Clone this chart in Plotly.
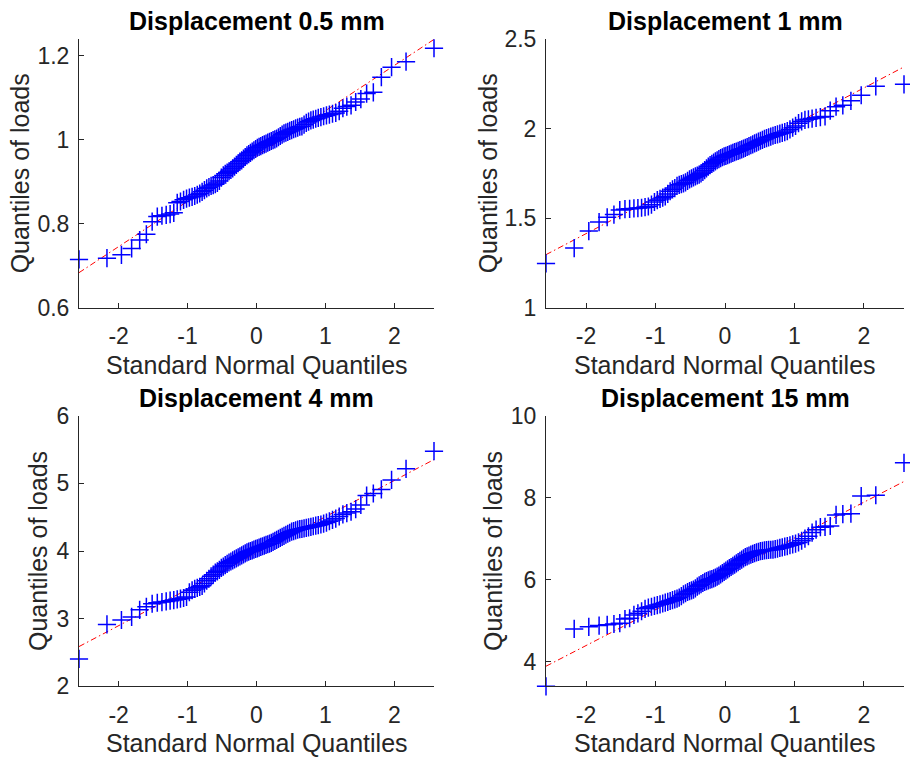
import plotly.graph_objects as go
from statistics import NormalDist

# ---------------- data (sorted sample quantiles) ----------------
titles = ["Displacement 0.5 mm", "Displacement 1 mm", "Displacement 4 mm", "Displacement 15 mm"]

loads_05mm = [
    0.715, 0.718, 0.726, 0.741, 0.761, 0.775, 0.805, 0.817, 0.819, 0.821,
    0.823, 0.826, 0.850, 0.853, 0.857, 0.860, 0.862, 0.864, 0.866, 0.869,
    0.872, 0.876, 0.880, 0.884, 0.887, 0.890, 0.892, 0.894, 0.897, 0.902,
    0.910, 0.915, 0.919, 0.922, 0.925, 0.928, 0.932, 0.936, 0.940, 0.944,
    0.948, 0.951, 0.955, 0.959, 0.963, 0.966, 0.969, 0.972, 0.975, 0.978,
    0.981, 0.983, 0.985, 0.987, 0.989, 0.991, 0.993, 0.995, 0.997, 0.999,
    1.001, 1.003, 1.006, 1.009, 1.012, 1.015, 1.017, 1.019, 1.021, 1.023,
    1.025, 1.027, 1.029, 1.031, 1.032, 1.036, 1.040, 1.043, 1.046, 1.048,
    1.050, 1.052, 1.054, 1.056, 1.058, 1.060, 1.062, 1.064, 1.068, 1.075,
    1.079, 1.082, 1.090, 1.097, 1.110, 1.113, 1.149, 1.173, 1.186, 1.218,
]

loads_1mm = [
    1.247, 1.333, 1.428, 1.478, 1.505, 1.520, 1.545, 1.550, 1.552, 1.554,
    1.556, 1.558, 1.561, 1.565, 1.575, 1.590, 1.600, 1.607, 1.614, 1.622,
    1.635, 1.650, 1.660, 1.668, 1.680, 1.686, 1.690, 1.694, 1.700, 1.708,
    1.716, 1.722, 1.728, 1.733, 1.738, 1.743, 1.750, 1.758, 1.768, 1.778,
    1.788, 1.796, 1.803, 1.810, 1.817, 1.823, 1.829, 1.835, 1.840, 1.845,
    1.848, 1.852, 1.856, 1.860, 1.864, 1.868, 1.872, 1.876, 1.880, 1.884,
    1.888, 1.892, 1.897, 1.902, 1.907, 1.912, 1.917, 1.922, 1.927, 1.932,
    1.937, 1.942, 1.947, 1.951, 1.955, 1.960, 1.964, 1.968, 1.972, 1.976,
    1.980, 1.986, 1.995, 2.005, 2.015, 2.030, 2.040, 2.048, 2.052, 2.056,
    2.060, 2.064, 2.068, 2.100, 2.122, 2.130, 2.155, 2.186, 2.236, 2.247,
]

loads_4mm = [
    2.404, 2.915, 2.980, 3.025, 3.130, 3.175, 3.220, 3.235, 3.245, 3.255,
    3.265, 3.275, 3.285, 3.295, 3.305, 3.320, 3.390, 3.420, 3.440, 3.455,
    3.470, 3.485, 3.520, 3.560, 3.590, 3.625, 3.650, 3.680, 3.700, 3.720,
    3.750, 3.770, 3.790, 3.810, 3.830, 3.845, 3.860, 3.875, 3.890, 3.905,
    3.920, 3.935, 3.950, 3.965, 3.980, 3.990, 4.000, 4.010, 4.020, 4.030,
    4.040, 4.050, 4.060, 4.070, 4.080, 4.090, 4.100, 4.110, 4.120, 4.135,
    4.150, 4.165, 4.180, 4.195, 4.210, 4.225, 4.240, 4.255, 4.270, 4.285,
    4.295, 4.305, 4.315, 4.322, 4.328, 4.335, 4.342, 4.350, 4.358, 4.366,
    4.374, 4.382, 4.392, 4.405, 4.420, 4.440, 4.460, 4.480, 4.510, 4.540,
    4.560, 4.580, 4.620, 4.680, 4.820, 4.850, 4.910, 5.050, 5.215, 5.475,
]

loads_15mm = [
    3.400, 4.800, 4.850, 4.880, 4.900, 4.920, 4.940, 5.040, 5.060, 5.140,
    5.180, 5.230, 5.290, 5.320, 5.340, 5.360, 5.380, 5.400, 5.420, 5.440,
    5.460, 5.480, 5.500, 5.520, 5.540, 5.565, 5.600, 5.640, 5.670, 5.700,
    5.720, 5.740, 5.760, 5.790, 5.830, 5.860, 5.890, 5.920, 5.945, 5.965,
    5.985, 6.000, 6.015, 6.030, 6.050, 6.075, 6.100, 6.130, 6.160, 6.190,
    6.220, 6.250, 6.280, 6.310, 6.340, 6.370, 6.400, 6.430, 6.460, 6.490,
    6.520, 6.550, 6.570, 6.590, 6.610, 6.630, 6.650, 6.665, 6.680, 6.695,
    6.705, 6.715, 6.720, 6.725, 6.730, 6.735, 6.745, 6.760, 6.775, 6.790,
    6.805, 6.820, 6.840, 6.860, 6.880, 6.910, 6.950, 7.000, 7.060, 7.150,
    7.220, 7.280, 7.290, 7.310, 7.580, 7.600, 7.610, 8.040, 8.060, 8.850,
]

x_tick_vals = [-2, -1, 0, 1, 2]
x_tick_text = ["-2", "-1", "0", "1", "2"]
y_tick_vals = [[0.6, 0.8, 1.0, 1.2], [1, 1.5, 2, 2.5], [2, 3, 4, 5, 6], [4, 6, 8, 10]]
y_tick_text = [["0.6", "0.8", "1", "1.2"], ["1", "1.5", "2", "2.5"],
               ["2", "3", "4", "5", "6"], ["4", "6", "8", "10"]]
y_top = [1.24, 2.5, 6, 10]
y_bottom_fixed = [0.6, 1, 2, None]   # None -> tight to the data minimum

series = [loads_05mm, loads_1mm, loads_4mm, loads_15mm]

# ---------------- layout geometry (pixels) ----------------
W, H = 910, 757
cols_px = [(79, 434), (546, 904)]
rows_px = [(39, 307.7), (415.7, 686.3)]

FONT = "Liberation Sans, Arial, Helvetica, sans-serif"
AX = "#262626"

fig = go.Figure()
nd = NormalDist()

annotations = []
for k, y in enumerate(series):
    r, c = divmod(k, 2)
    n = len(y)
    xq = [nd.inv_cdf((i + 0.5) / n) for i in range(n)]
    ys = sorted(y)
    # MATLAB-style quartile reference line
    q1 = (ys[24] + ys[25]) / 2
    q3 = (ys[74] + ys[75]) / 2
    xq1 = (xq[24] + xq[25]) / 2
    xq3 = (xq[74] + xq[75]) / 2
    slope = (q3 - q1) / (xq3 - xq1)
    icpt = q1 - slope * xq1
    xs_line = [xq[0], xq[-1]]
    ys_line = [icpt + slope * v for v in xs_line]

    ax_id = "" if k == 0 else str(k + 1)
    xa, ya = "x" + ax_id, "y" + ax_id

    fig.add_trace(go.Scatter(x=xs_line, y=ys_line, mode="lines", xaxis=xa, yaxis=ya,
                             line=dict(color="#ff0000", width=1, dash="6px,3px,1.5px,3px"),
                             showlegend=False, hoverinfo="skip"))
    fig.add_trace(go.Scatter(x=xq, y=ys, mode="markers", xaxis=xa, yaxis=ya,
                             marker=dict(symbol="cross-thin", size=13, color="#0000ff",
                                         line=dict(color="#0000ff", width=1.5)),
                             cliponaxis=False, showlegend=False))

    x0, x1 = cols_px[c]
    t0, t1 = rows_px[r]
    xdom = [x0 / W, x1 / W]
    ydom = [1 - t1 / H, 1 - t0 / H]
    ybot = y_bottom_fixed[k] if y_bottom_fixed[k] is not None else min(ys)

    common = dict(showline=True, linecolor=AX, linewidth=1, ticks="inside", ticklen=5,
                  tickcolor=AX, tickwidth=1, showgrid=False, zeroline=False,
                  automargin=False,
                  tickfont=dict(family=FONT, size=23, color=AX))
    fig.layout["xaxis" + ax_id] = dict(domain=xdom, range=[xq[0], xq[-1]], anchor=ya,
                                       tickvals=x_tick_vals, ticktext=x_tick_text,
                                       ticklabelstandoff=8, **common)
    fig.layout["yaxis" + ax_id] = dict(domain=ydom, range=[ybot, y_top[k]], anchor=xa,
                                       tickvals=y_tick_vals[k], ticktext=y_tick_text[k],
                                       ticklabelstandoff=4, **common)

    xc = (x0 + x1) / 2
    # title
    annotations.append(dict(text="<b>%s</b>" % titles[k], x=xc / W, y=1 - (t0 - 18) / H,
                            xref="paper", yref="paper", xanchor="center", yanchor="middle",
                            showarrow=False, font=dict(family=FONT, size=25, color="black")))
    # x label
    annotations.append(dict(text="Standard Normal Quantiles", x=xc / W, y=1 - (t1 + 57) / H,
                            xref="paper", yref="paper", xanchor="center", yanchor="middle",
                            showarrow=False, font=dict(family=FONT, size=25, color=AX)))
    # y label
    ylab_x = [20, 488, 38, 493][k]
    annotations.append(dict(text="Quantiles of loads", x=ylab_x / W, y=1 - ((t0 + t1) / 2) / H,
                            xref="paper", yref="paper", xanchor="center", yanchor="middle",
                            textangle=-90, showarrow=False,
                            font=dict(family=FONT, size=25, color=AX)))

fig.update_layout(width=W, height=H, margin=dict(l=0, r=0, t=0, b=0, pad=0, autoexpand=False),
                  paper_bgcolor="white", plot_bgcolor="white",
                  annotations=annotations, showlegend=False)

fig.write_html("out.html")
